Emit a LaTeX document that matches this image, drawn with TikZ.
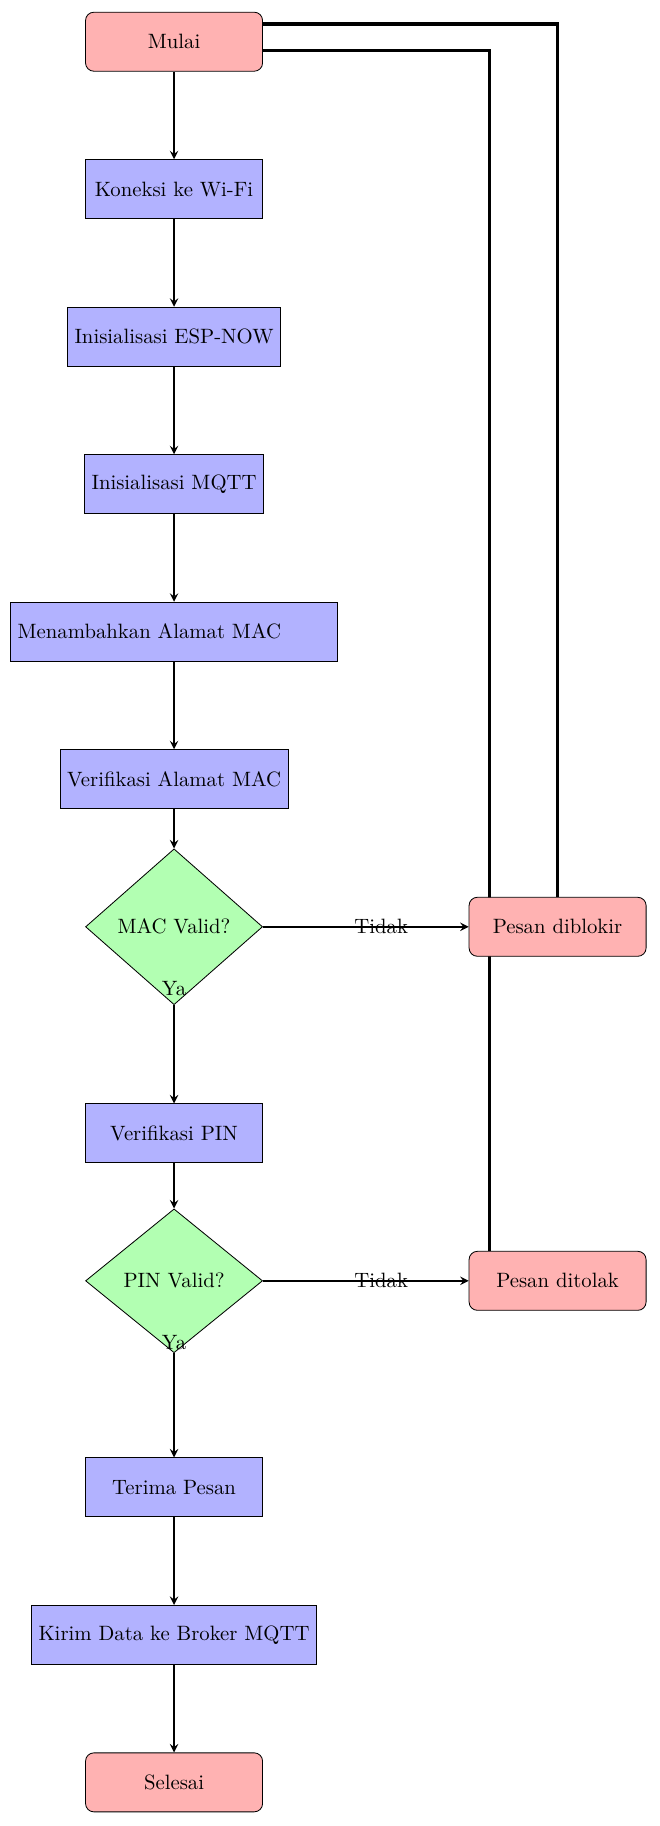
\documentclass[tikz,border=0pt]{standalone}
\usetikzlibrary{shapes.geometric,positioning,backgrounds}

\begin{document}
\begin{tikzpicture}[node distance=2.5cm,
  startstop/.style={rectangle, rounded corners, minimum width=3cm, minimum height=1cm, align=center, draw=black, fill=red!30},
  process/.style={rectangle, minimum width=3cm, minimum height=1cm, align=center, draw=black, fill=blue!30},
  decision/.style={diamond, minimum width=3cm, minimum height=1cm, align=center, draw=black, fill=green!30},
  arrow/.style={thick,->,>=stealth}]

\useasboundingbox (-2.95,0.707) rectangle (8.22,-30.24);

\node (start) [startstop] {Mulai};
\node (wifi) [process, below of=start] {Koneksi ke Wi-Fi};
\node (espnow) [process, below of=wifi] {Inisialisasi ESP-NOW};
\node (mqtt) [process, below of=espnow] {Inisialisasi MQTT};
\node (addmac) [process, below of=mqtt, text width=5.3cm, align=left] {Menambahkan Alamat MAC};
\node (vermac) [process, below of=addmac] {Verifikasi Alamat MAC};
\node (dec1) [decision, below of=vermac] {MAC Valid?};
\node (blok) [startstop, right of=dec1, xshift=4cm] {Pesan diblokir};
\node (verpin) [process, below of=dec1, yshift=-1cm] {Verifikasi PIN};
\node (dec2) [decision, below of=verpin] {PIN Valid?};
\node (tolak) [startstop, right of=dec2, xshift=4cm] {Pesan ditolak};
\node (terima) [process, below of=dec2, yshift=-1cm] {Terima Pesan};
\node (kirim) [process, below of=terima] {Kirim Data ke Broker MQTT};
\node (stop) [startstop, below of=kirim] {Selesai};

\draw [arrow] (start) -- (wifi);
\draw [arrow] (wifi) -- (espnow);
\draw [arrow] (espnow) -- (mqtt);
\draw [arrow] (mqtt) -- (addmac);
\draw [arrow] (addmac) -- (vermac);
\draw [arrow] (vermac) -- (dec1);
\draw [arrow] (dec1) -- node[pos=0.575] {Tidak} (blok);
\draw [arrow] (dec1) -- (verpin);
\node (ya1) at ([yshift=-1.05cm]dec1.center) {Ya};
\draw [arrow] (verpin) -- (dec2);
\draw [arrow] (dec2) -- node[pos=0.575] {Tidak} (tolak);
\draw [arrow] (dec2) -- (terima);
\node (ya2) at ([yshift=-1.05cm]dec2.center) {Ya};
\draw [arrow] (terima) -- (kirim);
\draw [arrow] (kirim) -- (stop);

\begin{scope}[on background layer]
\draw[ultra thick] ([yshift=0.3cm]start.east) -| (blok.north);
\draw[ultra thick] ([yshift=-0.15cm]start.east) -| ([xshift=-1.15cm]tolak.north);
\end{scope}

\end{tikzpicture}
\end{document}
